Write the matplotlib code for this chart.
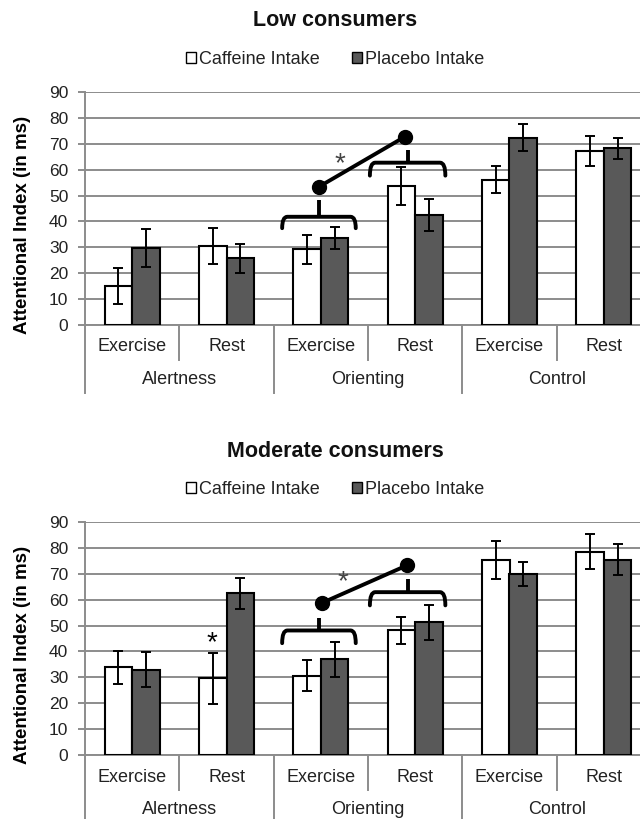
import matplotlib.pyplot as plt
from matplotlib.patches import Patch
from matplotlib.path import Path
from matplotlib.patches import PathPatch
import numpy as np

plt.rcParams['font.family'] = ['Liberation Sans', 'DejaVu Sans']

conditions = ['Exercise', 'Rest', 'Exercise', 'Rest', 'Exercise', 'Rest']
networks = ['Alertness', 'Orienting', 'Control']

low_caff = [15.2, 30.5, 29.2, 53.8, 56.2, 67.3]
low_caff_err = [7.0, 7.0, 5.7, 7.4, 5.3, 5.7]
low_plac = [29.8, 25.7, 33.7, 42.5, 72.3, 68.2]
low_plac_err = [7.3, 5.6, 4.3, 6.0, 5.2, 4.2]

mod_caff = [33.8, 29.6, 30.6, 48.1, 75.4, 78.6]
mod_caff_err = [6.4, 9.8, 6.0, 5.3, 7.3, 6.9]
mod_plac = [33.0, 62.5, 37.0, 51.3, 69.9, 75.4]
mod_plac_err = [6.6, 6.0, 6.8, 6.8, 4.5, 6.0]

W, H = 640, 819
fig = plt.figure(figsize=(6.4, 8.19), dpi=100)

GRID = '#8c8c8c'
DARK = '#595959'


def px_axes(left, top, right, bottom):
    return fig.add_axes([left / W, 1 - bottom / H, (right - left) / W, (bottom - top) / H])


def brace(ax, x1, x2, xc, y, yend, ytip):
    r = (x2 - x1) * 0.07
    verts = [(x1, yend), (x1, y), (x1 + r, y), (x2 - r, y), (x2, y), (x2, yend)]
    codes = [Path.MOVETO, Path.CURVE3, Path.CURVE3, Path.LINETO, Path.CURVE3, Path.CURVE3]
    ax.add_patch(PathPatch(Path(verts, codes), fill=False, lw=2.8, color='black',
                           capstyle='round', joinstyle='round', zorder=6))
    ax.plot([xc, xc], [y, ytip], color='black', lw=2.8, solid_capstyle='butt', zorder=6)


def panel(top, title, caff, caff_err, plac, plac_err, sep_bottom):
    ax = px_axes(85, top, 651, top + 233)
    x = np.arange(6)
    w = 0.29
    ax.bar(x - w / 2, caff, w, color='white', edgecolor='black', lw=1.5, zorder=3)
    ax.bar(x + w / 2, plac, w, color=DARK, edgecolor='black', lw=1.5, zorder=3)
    ax.errorbar(x - w / 2, caff, yerr=caff_err, fmt='none', ecolor='black', elinewidth=1.4,
                capsize=3.5, capthick=1.4, zorder=4)
    ax.errorbar(x + w / 2, plac, yerr=plac_err, fmt='none', ecolor='black', elinewidth=1.4,
                capsize=3.5, capthick=1.4, zorder=4)
    ax.set_xlim(-0.5, 5.5)
    ax.set_ylim(0, 90)
    ax.set_yticks(np.arange(0, 91, 10))
    ax.yaxis.grid(True, color=GRID, lw=1.4)
    ax.set_axisbelow(True)
    for s in ['top', 'right']:
        ax.spines[s].set_visible(False)
    ax.spines['left'].set_color(GRID)
    ax.spines['left'].set_linewidth(1.4)
    ax.spines['bottom'].set_color(GRID)
    ax.spines['bottom'].set_linewidth(1.4)
    ax.tick_params(axis='y', length=5, width=1.4, color=GRID, labelsize=12.5, pad=7,
                   labelcolor='#222222')
    ax.set_xticks([])
    ax.set_ylabel('Attentional Index (in ms)', fontsize=13.5, fontweight='bold')
    ax.yaxis.set_label_coords(-0.095, 0.43)

    trans = ax.get_xaxis_transform()
    h = 233.0
    # separators under the axis: short between conditions, long between networks
    for xs in [0.5, 2.5, 4.5]:
        ax.plot([xs, xs], [0, -35 / h], transform=trans, color=GRID, lw=1.4, clip_on=False)
    for xs in [-0.5, 1.5, 3.5]:
        ax.plot([xs, xs], [0, -sep_bottom / h], transform=trans, color=GRID, lw=1.4, clip_on=False)
    for i, c in enumerate(conditions):
        ax.text(i, -22 / h, c, transform=trans, ha='center', va='center', fontsize=13,
                color='#222222')
    for i, n in enumerate(networks):
        ax.text(2 * i + 0.5, -55 / h, n, transform=trans, ha='center', va='center', fontsize=13,
                color='#222222')

    fig.text(335 / W, 1 - (top - 71) / H, title, ha='center', va='center', fontsize=15.5,
             fontweight='bold', color='#111111')
    handles = [Patch(facecolor='white', edgecolor='black', lw=1.0),
               Patch(facecolor=DARK, edgecolor='black', lw=1.0)]
    fig.legend(handles, ['Caffeine Intake', 'Placebo Intake'], loc='center', ncol=2,
               bbox_to_anchor=(335 / W, 1 - (top - 33) / H), frameon=False, fontsize=13,
               handlelength=0.55, handleheight=0.55, handletextpad=0.15, columnspacing=1.8,
               labelcolor='#222222')
    return ax


ax1 = panel(92, 'Low consumers', low_caff, low_caff_err, low_plac, low_plac_err, 68)
brace(ax1, 1.59, 2.37, 1.98, 41.8, 37.4, 48.3)
brace(ax1, 2.52, 3.32, 2.92, 62.7, 57.7, 67.6)
ax1.plot([1.98, 2.89], [53.4, 72.7], color='black', lw=2.8, marker='o', ms=10, zorder=7)
ax1.text(2.2, 62.0, '*', ha='center', va='center', fontsize=20, color='#444444')

ax2 = panel(522, 'Moderate consumers', mod_caff, mod_caff_err, mod_plac, mod_plac_err, 70)
brace(ax2, 1.59, 2.37, 1.98, 48.1, 43.2, 52.9)
brace(ax2, 2.52, 3.32, 2.92, 62.9, 57.8, 67.9)
ax2.plot([2.01, 2.91], [58.7, 73.2], color='black', lw=2.8, marker='o', ms=10, zorder=7)
ax2.text(2.23, 66.6, '*', ha='center', va='center', fontsize=20, color='#444444')
ax2.text(0.84, 43.3, '*', ha='center', va='center', fontsize=20, color='black')

fig.savefig('out.png', dpi=100)
